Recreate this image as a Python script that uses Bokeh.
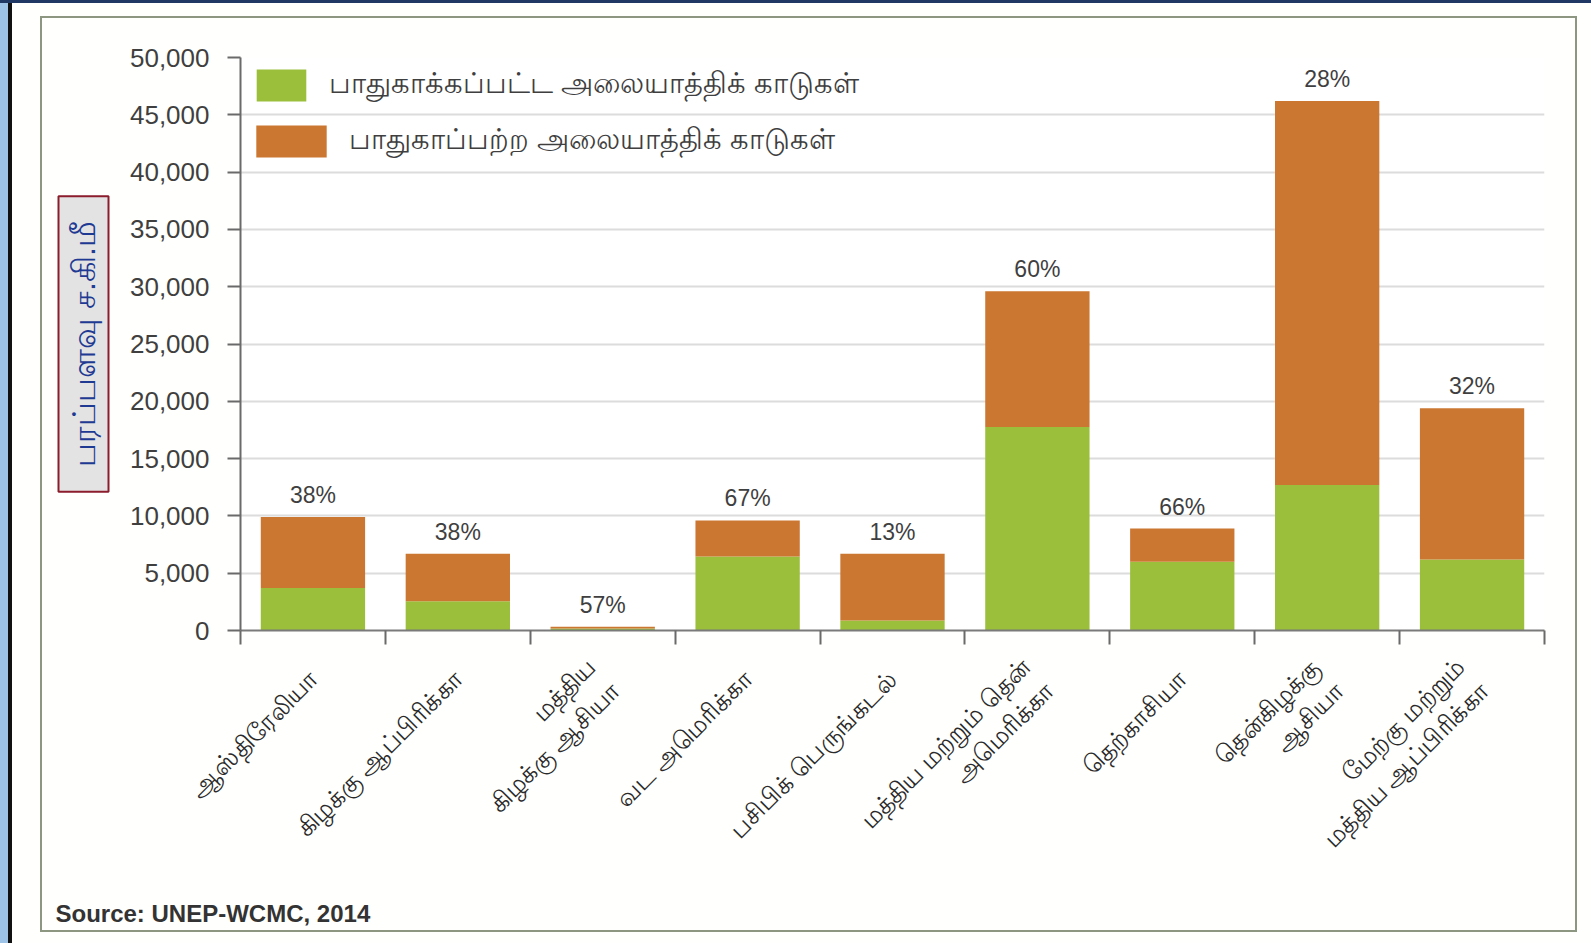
import math
from urllib.parse import quote
from bokeh.plotting import figure
from bokeh.models import (Range1d, FixedTicker, NumeralTickFormatter, ColumnDataSource,
                          LabelSet, Title, Legend, LegendItem)
from bokeh.core.properties import value
from bokeh.embed import file_html
from bokeh.resources import INLINE

# ---------------- data ----------------
regions = [
    "ஆஸ்திரேலியா",
    "கிழக்கு ஆப்பிரிக்கா",
    "மத்திய\nகிழக்கு ஆசியா",
    "வட அமெரிக்கா",
    "பசிபிக் பெருங்கடல்",
    "மத்திய மற்றும் தென்\nஅமெரிக்கா",
    "தெற்காசியா",
    "தென்கிழக்கு\nஆசியா",
    "மேற்கு மற்றும்\nமத்திய ஆப்பிரிக்கா",
]
protected = [3700, 2550, 180, 6450, 870, 17750, 6000, 12700, 6200]
unprotected = [6200, 4150, 140, 3150, 5830, 11850, 2900, 33500, 13200]
pct_labels = ["38%", "38%", "57%", "67%", "13%", "60%", "66%", "28%", "32%"]
series_names = ["பாதுகாக்கப்பட்ட அலையாத்திக் காடுகள்",
                "பாதுகாப்பற்ற அலையாத்திக் காடுகள்"]
y_ticks = list(range(0, 50001, 5000))
y_title = "பரப்பளவு ச.கி.மீ"
source_note = "Source: UNEP-WCMC, 2014"

GREEN = "#9BBF3B"
ORANGE = "#CC7731"
TXT = "#3f3f3f"

# ---------------- figure ----------------
W, H = 1591, 943
LB, RB, TB, BB = 240, 47, 57, 313
n = len(regions)

p = figure(width=W, height=H, output_backend="svg", toolbar_location=None,
           x_range=Range1d(0, n), y_range=Range1d(0, max(y_ticks)),
           min_border_left=LB, min_border_right=RB, min_border_top=TB, min_border_bottom=BB,
           background_fill_color="white", border_fill_alpha=0)
p.outline_line_color = None

# page decoration behind the canvas: side strips and the thin frame round the chart
bg = (f"<svg xmlns='http://www.w3.org/2000/svg' width='{W}' height='{H}'>"
      f"<rect width='{W}' height='{H}' fill='#fffffd'/>"
      f"<rect x='0' y='0' width='8' height='{H}' fill='#9dc3e6'/>"
      f"<rect x='8' y='0' width='4' height='{H}' fill='#111111'/>"
      f"<rect x='0' y='0' width='{W}' height='3' fill='#1f3864'/>"
      f"<rect x='41' y='17' width='1535' height='914' fill='none' stroke='#8c9680' stroke-width='2'/>"
      "</svg>")
p.styles = {"background-image": f'url("data:image/svg+xml,{quote(bg)}")',
            "background-repeat": "no-repeat"}

xs = [i + 0.5 for i in range(n)]
totals = [a + b for a, b in zip(protected, unprotected)]
src = ColumnDataSource(dict(x=xs, protected=protected, unprotected=unprotected,
                            total=totals, pct=pct_labels))

rs = p.vbar_stack(["protected", "unprotected"], x="x", width=0.72,
                  color=[GREEN, ORANGE], line_color=None, source=src)

# axes
xa = p.xaxis[0]
xa.ticker = FixedTicker(ticks=xs, minor_ticks=list(range(n + 1)))
xa.major_label_overrides = {x: r for x, r in zip(xs, regions)}
xa.major_label_orientation = math.pi / 4
xa.major_tick_line_color = None
xa.major_tick_out = 0
xa.major_tick_in = 0
xa.minor_tick_line_color = "#6a6a6a"
xa.minor_tick_line_width = 2
xa.minor_tick_out = 14
xa.minor_tick_in = 0
xa.axis_line_color = "#7a7a7a"
xa.axis_line_width = 2
xa.major_label_text_font_size = "25px"
xa.major_label_text_color = "#2a2a2a"
xa.major_label_standoff = 30

ya = p.yaxis[0]
ya.ticker = FixedTicker(ticks=y_ticks)
ya.formatter = NumeralTickFormatter(format="0,0")
ya.axis_line_color = "#6a6a6a"
ya.axis_line_width = 2
ya.major_tick_line_color = "#6a6a6a"
ya.major_tick_line_width = 2
ya.major_tick_out = 13
ya.major_tick_in = 0
ya.minor_tick_line_color = None
ya.major_label_text_font = "Liberation Sans"
ya.major_label_text_font_size = "26px"
ya.major_label_text_color = TXT
ya.major_label_standoff = 18

p.xgrid.grid_line_color = None
p.ygrid.grid_line_color = "#dcdcdc"
p.ygrid.grid_line_width = 2

# percentage labels
p.add_layout(LabelSet(x="x", y="total", text="pct", source=src, y_offset=9,
                      text_align="center", text_baseline="bottom",
                      text_font=value("Liberation Sans"), text_font_size="23px",
                      text_color=TXT))

# legends (two separate ones, swatches of different widths as in the original)
for item_r, name, gw, sd, loc in [(rs[0], series_names[0], 62, 17, (10, 525)),
                                  (rs[1], series_names[1], 88, 14, (7, 469))]:
    lg = Legend(items=[LegendItem(label=name, renderers=[item_r])], location=loc,
                glyph_width=gw, glyph_height=40, label_standoff=sd, padding=0, margin=0,
                border_line_color=None, background_fill_alpha=0,
                label_text_font_size="29px", label_text_color=TXT)
    p.add_layout(lg)

# boxed y title on the left, source note below
p.add_layout(Title(text=y_title, align="center", text_font_size="32px",
                   text_font_style="normal", text_color="#1f3a93",
                   background_fill_color="#e3e3e3", border_line_color="#8b1c2c",
                   border_line_width=2, padding=dict(left=25, right=25, top=7, bottom=7),
                   standoff=36), "left")
p.add_layout(Title(text=source_note, align="left", offset=-185, standoff=30,
                   text_font="Liberation Sans", text_font_style="bold",
                   text_font_size="24px", text_color="#333333"), "below")

open("out.html", "w").write(file_html(p, INLINE))
